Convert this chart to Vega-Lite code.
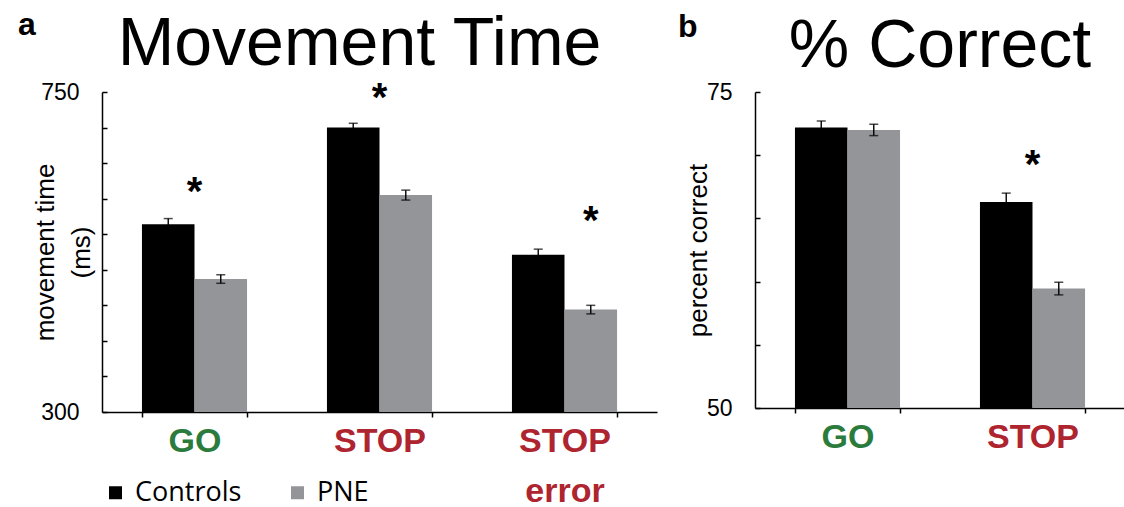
{
  "$schema": "https://vega.github.io/schema/vega-lite/v6.json",
  "padding": {"left": 18, "top": 8, "right": 0, "bottom": 0},
  "spacing": 21,
  "config": {"view": {"stroke": null}, "font": "Liberation Sans"},
  "resolve": {"scale": {"color": "independent"}, "legend": {"color": "independent"}},
  "hconcat": [
    {
      "title": {"text": "a", "anchor": "start", "frame": "bounds", "fontSize": 32, "fontWeight": "bold", "font": "Liberation Sans", "color": "#000", "dy": 31, "dx": -14, "offset": 0},
      "resolve": {"scale": {"color": "independent"}, "legend": {"color": "independent"}},
      "vconcat": [
        {
          "title": {"text": "Movement Time", "fontSize": 68, "font": "Liberation Sans", "fontWeight": "normal", "color": "#000", "dx": -20, "offset": 0, "anchor": "middle", "frame": "group"},
          "width": 555,
          "height": 320,
          "data": {"values": [
            {"condition": "GO", "group": "Controls", "value": 564, "lo": 556, "hi": 572},
            {"condition": "GO", "group": "PNE", "value": 487, "lo": 481, "hi": 493},
            {"condition": "STOP", "group": "Controls", "value": 700, "lo": 694, "hi": 706},
            {"condition": "STOP", "group": "PNE", "value": 605, "lo": 598, "hi": 612},
            {"condition": "STOP error", "group": "Controls", "value": 521, "lo": 513, "hi": 529},
            {"condition": "STOP error", "group": "PNE", "value": 444, "lo": 438, "hi": 450}
          ]},
          "encoding": {
            "x": {"field": "condition", "type": "nominal", "sort": ["GO", "STOP", "STOP error"],
              "scale": {"paddingInner": 0.432, "paddingOuter": 0.216},
              "axis": {"title": null, "labelFont": "Liberation Sans", "labelFontSize": 34, "labelFontWeight": "bold",
                "labelColor": {"condition": {"test": "datum.value === 'GO'", "value": "#2b7b3d"}, "value": "#ae2530"},
                "labelExpr": "datum.value === 'STOP error' ? ['STOP', 'error'] : datum.label",
                "labelLineHeight": 50, "labelPadding": 7, "labelAngle": 0, "tickSize": 5, "tickBand": "extent",
                "domainColor": "#000", "domainWidth": 1.5, "tickColor": "#000", "tickWidth": 1.5}}
          },
          "layer": [
            {
              "mark": {"type": "bar"},
              "encoding": {
                "xOffset": {"field": "group", "type": "nominal", "sort": ["Controls", "PNE"]},
                "y": {"field": "value", "type": "quantitative",
                  "scale": {"domain": [300, 750], "zero": false, "nice": false},
                  "axis": {"title": ["movement time", "(ms)"], "values": [300, 350, 400, 450, 500, 550, 600, 650, 700, 750],
                    "labelExpr": "datum.value == 300 || datum.value == 750 ? datum.label : ''",
                    "labelOverlap": false, "labelFlush": false,
                    "grid": false, "tickSize": -5, "labelPadding": 28, "domainColor": "#000", "domainWidth": 1.5, "tickColor": "#000", "tickWidth": 1.5,
                    "labelFont": "Liberation Sans", "labelFontSize": 23, "labelColor": "#000",
                    "titleFont": "Liberation Sans", "titleFontSize": 26, "titleFontWeight": "normal", "titleColor": "#000",
                    "titleX": -57, "titleY": 160, "titleBaseline": "middle", "titleLineHeight": 36}},
                "y2": {"datum": 300},
                "color": {"field": "group", "type": "nominal",
                  "scale": {"domain": ["Controls", "PNE"], "range": ["#000000", "#939598"]},
                  "legend": {"orient": "none", "legendX": 0, "legendY": 387, "direction": "horizontal", "title": null,
                    "symbolType": "square", "symbolSize": 169, "symbolStrokeWidth": 0, "labelFont": "Open Sans", "labelFontSize": 27,
                    "labelColor": "#000", "labelOffset": 6, "columnPadding": 42, "padding": 0}}
              }
            },
            {
              "mark": {"type": "rule", "color": "#000", "strokeWidth": 1.4},
              "encoding": {
                "xOffset": {"field": "group", "type": "nominal", "sort": ["Controls", "PNE"]},
                "y": {"field": "lo", "type": "quantitative",
                  "axis": {"title": ["movement time", "(ms)"], "values": [300, 350, 400, 450, 500, 550, 600, 650, 700, 750],
                    "labelExpr": "datum.value == 300 || datum.value == 750 ? datum.label : ''",
                    "labelOverlap": false, "labelFlush": false,
                    "grid": false, "tickSize": -5, "labelPadding": 28, "domainColor": "#000", "domainWidth": 1.5, "tickColor": "#000", "tickWidth": 1.5,
                    "labelFont": "Liberation Sans", "labelFontSize": 23, "labelColor": "#000",
                    "titleFont": "Liberation Sans", "titleFontSize": 26, "titleFontWeight": "normal", "titleColor": "#000",
                    "titleX": -57, "titleY": 160, "titleBaseline": "middle", "titleLineHeight": 36}},
                "y2": {"field": "hi"}
              }
            },
            {
              "mark": {"type": "tick", "color": "#000", "size": 9, "thickness": 1.5},
              "encoding": {
                "xOffset": {"field": "group", "type": "nominal", "sort": ["Controls", "PNE"]},
                "y": {"field": "lo", "type": "quantitative",
                  "axis": {"title": ["movement time", "(ms)"], "values": [300, 350, 400, 450, 500, 550, 600, 650, 700, 750],
                    "labelExpr": "datum.value == 300 || datum.value == 750 ? datum.label : ''",
                    "labelOverlap": false, "labelFlush": false,
                    "grid": false, "tickSize": -5, "labelPadding": 28, "domainColor": "#000", "domainWidth": 1.5, "tickColor": "#000", "tickWidth": 1.5,
                    "labelFont": "Liberation Sans", "labelFontSize": 23, "labelColor": "#000",
                    "titleFont": "Liberation Sans", "titleFontSize": 26, "titleFontWeight": "normal", "titleColor": "#000",
                    "titleX": -57, "titleY": 160, "titleBaseline": "middle", "titleLineHeight": 36}}
              }
            },
            {
              "mark": {"type": "tick", "color": "#000", "size": 9, "thickness": 1.5},
              "encoding": {
                "xOffset": {"field": "group", "type": "nominal", "sort": ["Controls", "PNE"]},
                "y": {"field": "hi", "type": "quantitative",
                  "axis": {"title": ["movement time", "(ms)"], "values": [300, 350, 400, 450, 500, 550, 600, 650, 700, 750],
                    "labelExpr": "datum.value == 300 || datum.value == 750 ? datum.label : ''",
                    "labelOverlap": false, "labelFlush": false,
                    "grid": false, "tickSize": -5, "labelPadding": 28, "domainColor": "#000", "domainWidth": 1.5, "tickColor": "#000", "tickWidth": 1.5,
                    "labelFont": "Liberation Sans", "labelFontSize": 23, "labelColor": "#000",
                    "titleFont": "Liberation Sans", "titleFontSize": 26, "titleFontWeight": "normal", "titleColor": "#000",
                    "titleX": -57, "titleY": 160, "titleBaseline": "middle", "titleLineHeight": 36}}
              }
            },
            {
              "data": {"values": [
                {"condition": "GO", "star": 617},
                {"condition": "STOP", "star": 749}
              ]},
              "mark": {"type": "text", "text": "*", "fontSize": 40, "fontWeight": "bold", "font": "Liberation Sans", "color": "#000", "baseline": "alphabetic", "dy": 18},
              "encoding": {"y": {"field": "star", "type": "quantitative",
                  "axis": {"title": ["movement time", "(ms)"], "values": [300, 350, 400, 450, 500, 550, 600, 650, 700, 750],
                    "labelExpr": "datum.value == 300 || datum.value == 750 ? datum.label : ''",
                    "labelOverlap": false, "labelFlush": false,
                    "grid": false, "tickSize": -5, "labelPadding": 28, "domainColor": "#000", "domainWidth": 1.5, "tickColor": "#000", "tickWidth": 1.5,
                    "labelFont": "Liberation Sans", "labelFontSize": 23, "labelColor": "#000",
                    "titleFont": "Liberation Sans", "titleFontSize": 26, "titleFontWeight": "normal", "titleColor": "#000",
                    "titleX": -57, "titleY": 160, "titleBaseline": "middle", "titleLineHeight": 36}}}
            },
            {
              "data": {"values": [
                {"condition": "STOP error", "group": "PNE", "star": 576}
              ]},
              "mark": {"type": "text", "text": "*", "fontSize": 40, "fontWeight": "bold", "font": "Liberation Sans", "color": "#000", "baseline": "alphabetic", "dy": 18},
              "encoding": {
                "xOffset": {"field": "group", "type": "nominal", "sort": ["Controls", "PNE"]},
                "y": {"field": "star", "type": "quantitative",
                  "axis": {"title": ["movement time", "(ms)"], "values": [300, 350, 400, 450, 500, 550, 600, 650, 700, 750],
                    "labelExpr": "datum.value == 300 || datum.value == 750 ? datum.label : ''",
                    "labelOverlap": false, "labelFlush": false,
                    "grid": false, "tickSize": -5, "labelPadding": 28, "domainColor": "#000", "domainWidth": 1.5, "tickColor": "#000", "tickWidth": 1.5,
                    "labelFont": "Liberation Sans", "labelFontSize": 23, "labelColor": "#000",
                    "titleFont": "Liberation Sans", "titleFontSize": 26, "titleFontWeight": "normal", "titleColor": "#000",
                    "titleX": -57, "titleY": 160, "titleBaseline": "middle", "titleLineHeight": 36}}
              }
            }
          ]
        }
      ]
    },
    {
      "title": {"text": "b", "anchor": "start", "frame": "bounds", "fontSize": 32, "fontWeight": "bold", "font": "Liberation Sans", "color": "#000", "dy": 31, "dx": -7, "offset": 0},
      "resolve": {"scale": {"color": "independent"}, "legend": {"color": "independent"}},
      "vconcat": [
        {
          "title": {"text": "% Correct", "fontSize": 68, "font": "Liberation Sans", "fontWeight": "normal", "color": "#000", "offset": 0, "anchor": "middle", "frame": "group"},
          "width": 370,
          "height": 316,
          "data": {"values": [
            {"condition": "GO", "group": "Controls", "value": 72.2, "lo": 71.7, "hi": 72.7},
            {"condition": "GO", "group": "PNE", "value": 72.0, "lo": 71.55, "hi": 72.45},
            {"condition": "STOP", "group": "Controls", "value": 66.3, "lo": 65.6, "hi": 67.0},
            {"condition": "STOP", "group": "PNE", "value": 59.45, "lo": 58.95, "hi": 59.95}
          ]},
          "encoding": {
            "x": {"field": "condition", "type": "nominal", "sort": ["GO", "STOP"],
              "scale": {"paddingInner": 0.432, "paddingOuter": 0.216},
              "axis": {"title": null, "labelFont": "Liberation Sans", "labelFontSize": 34, "labelFontWeight": "bold",
                "labelColor": {"condition": {"test": "datum.value === 'GO'", "value": "#2b7b3d"}, "value": "#ae2530"},
                "labelPadding": 7, "labelAngle": 0, "tickSize": 5, "tickBand": "extent",
                "domainColor": "#000", "domainWidth": 1.5, "tickColor": "#000", "tickWidth": 1.5}}
          },
          "layer": [
            {
              "mark": {"type": "bar"},
              "encoding": {
                "xOffset": {"field": "group", "type": "nominal", "sort": ["Controls", "PNE"]},
                "y": {"field": "value", "type": "quantitative",
                  "scale": {"domain": [50, 75], "zero": false, "nice": false},
                  "axis": {"title": "percent correct", "values": [50, 55, 60, 65, 70, 75],
                    "labelExpr": "datum.value == 50 || datum.value == 75 ? datum.label : ''",
                    "labelOverlap": false, "labelFlush": false,
                    "grid": false, "tickSize": -5, "labelPadding": 28, "domainColor": "#000", "domainWidth": 1.5, "tickColor": "#000", "tickWidth": 1.5,
                    "labelFont": "Liberation Sans", "labelFontSize": 23, "labelColor": "#000",
                    "titleFont": "Liberation Sans", "titleFontSize": 26, "titleFontWeight": "normal", "titleColor": "#000",
                    "titleX": -57, "titleY": 158, "titleBaseline": "middle"}},
                "y2": {"datum": 50},
                "color": {"field": "group", "type": "nominal",
                  "scale": {"domain": ["Controls", "PNE"], "range": ["#000000", "#939598"]},
                  "legend": null}
              }
            },
            {
              "mark": {"type": "rule", "color": "#000", "strokeWidth": 1.4},
              "encoding": {
                "xOffset": {"field": "group", "type": "nominal", "sort": ["Controls", "PNE"]},
                "y": {"field": "lo", "type": "quantitative",
                  "axis": {"title": "percent correct", "values": [50, 55, 60, 65, 70, 75],
                    "labelExpr": "datum.value == 50 || datum.value == 75 ? datum.label : ''",
                    "labelOverlap": false, "labelFlush": false,
                    "grid": false, "tickSize": -5, "labelPadding": 28, "domainColor": "#000", "domainWidth": 1.5, "tickColor": "#000", "tickWidth": 1.5,
                    "labelFont": "Liberation Sans", "labelFontSize": 23, "labelColor": "#000",
                    "titleFont": "Liberation Sans", "titleFontSize": 26, "titleFontWeight": "normal", "titleColor": "#000",
                    "titleX": -57, "titleY": 158, "titleBaseline": "middle"}},
                "y2": {"field": "hi"}
              }
            },
            {
              "mark": {"type": "tick", "color": "#000", "size": 9, "thickness": 1.5},
              "encoding": {
                "xOffset": {"field": "group", "type": "nominal", "sort": ["Controls", "PNE"]},
                "y": {"field": "lo", "type": "quantitative",
                  "axis": {"title": "percent correct", "values": [50, 55, 60, 65, 70, 75],
                    "labelExpr": "datum.value == 50 || datum.value == 75 ? datum.label : ''",
                    "labelOverlap": false, "labelFlush": false,
                    "grid": false, "tickSize": -5, "labelPadding": 28, "domainColor": "#000", "domainWidth": 1.5, "tickColor": "#000", "tickWidth": 1.5,
                    "labelFont": "Liberation Sans", "labelFontSize": 23, "labelColor": "#000",
                    "titleFont": "Liberation Sans", "titleFontSize": 26, "titleFontWeight": "normal", "titleColor": "#000",
                    "titleX": -57, "titleY": 158, "titleBaseline": "middle"}}
              }
            },
            {
              "mark": {"type": "tick", "color": "#000", "size": 9, "thickness": 1.5},
              "encoding": {
                "xOffset": {"field": "group", "type": "nominal", "sort": ["Controls", "PNE"]},
                "y": {"field": "hi", "type": "quantitative",
                  "axis": {"title": "percent correct", "values": [50, 55, 60, 65, 70, 75],
                    "labelExpr": "datum.value == 50 || datum.value == 75 ? datum.label : ''",
                    "labelOverlap": false, "labelFlush": false,
                    "grid": false, "tickSize": -5, "labelPadding": 28, "domainColor": "#000", "domainWidth": 1.5, "tickColor": "#000", "tickWidth": 1.5,
                    "labelFont": "Liberation Sans", "labelFontSize": 23, "labelColor": "#000",
                    "titleFont": "Liberation Sans", "titleFontSize": 26, "titleFontWeight": "normal", "titleColor": "#000",
                    "titleX": -57, "titleY": 158, "titleBaseline": "middle"}}
              }
            },
            {
              "data": {"values": [
                {"condition": "STOP", "star": 69.6}
              ]},
              "mark": {"type": "text", "text": "*", "fontSize": 40, "fontWeight": "bold", "font": "Liberation Sans", "color": "#000", "baseline": "alphabetic", "dy": 18},
              "encoding": {"y": {"field": "star", "type": "quantitative",
                  "axis": {"title": "percent correct", "values": [50, 55, 60, 65, 70, 75],
                    "labelExpr": "datum.value == 50 || datum.value == 75 ? datum.label : ''",
                    "labelOverlap": false, "labelFlush": false,
                    "grid": false, "tickSize": -5, "labelPadding": 28, "domainColor": "#000", "domainWidth": 1.5, "tickColor": "#000", "tickWidth": 1.5,
                    "labelFont": "Liberation Sans", "labelFontSize": 23, "labelColor": "#000",
                    "titleFont": "Liberation Sans", "titleFontSize": 26, "titleFontWeight": "normal", "titleColor": "#000",
                    "titleX": -57, "titleY": 158, "titleBaseline": "middle"}}}
            }
          ]
        }
      ]
    }
  ]
}
